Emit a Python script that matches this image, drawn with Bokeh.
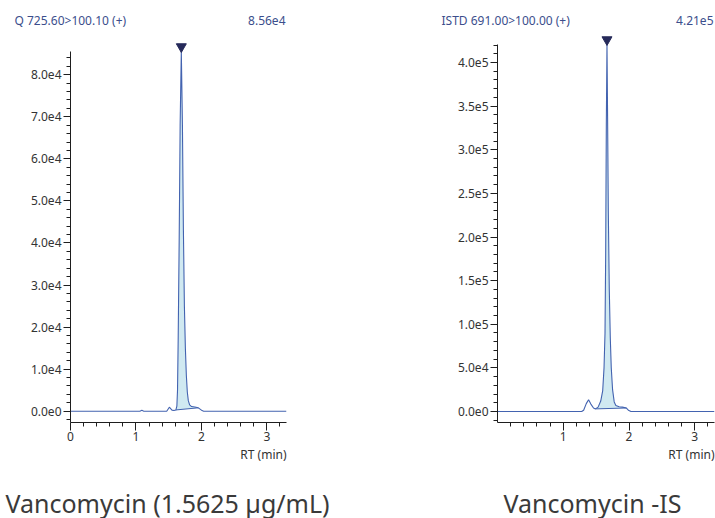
import numpy as np
from bokeh.plotting import figure
from bokeh.models import Range1d, FixedTicker, Label, Title
from bokeh.layouts import row, column
from bokeh.embed import file_html
from bokeh.resources import INLINE

# ---------------- data ----------------
q_title = "Q 725.60>100.10 (+)"
q_max_label = "8.56e4"
q_caption = "Vancomycin (1.5625 µg/mL)"
q_rt = [0.00, 1.06, 1.09, 1.12, 1.47, 1.51, 1.55, 1.58, 1.61, 1.625, 1.635, 1.645,
        1.660, 1.675, 1.693, 1.710, 1.725, 1.740, 1.755, 1.770, 1.785, 1.800, 1.820,
        1.850, 1.900, 1.950, 1.980, 2.010, 2.035, 3.30]
q_int = [0, 0, 200, 0, 0, 950, 250, 150, 300, 1200, 5000, 17000,
         40000, 68000, 85600, 68000, 43000, 25000, 15000, 8500, 4500, 2500, 1500,
         1100, 1000, 800, 500, 150, 0, 0]
q_peak_rt = 1.693
q_peak_int = 85600
q_integ_rt = [1.61, 1.95]
q_yticks = [0, 10000, 20000, 30000, 40000, 50000, 60000, 70000, 80000]
q_yticklabels = ["0.0e0", "1.0e4", "2.0e4", "3.0e4", "4.0e4", "5.0e4", "6.0e4", "7.0e4", "8.0e4"]
q_yminor = list(range(-2000, 85000, 2000))
q_xticks = [0, 1, 2, 3]
q_xticklabels = ["0", "1", "2", "3"]
q_xminor = [0.2, 0.4, 0.6, 0.8, 1.2, 1.4, 1.6, 1.8, 2.2, 2.4, 2.6, 2.8, 3.2]

is_title = "ISTD 691.00>100.00 (+)"
is_max_label = "4.21e5"
is_caption = "Vancomycin -IS"
is_rt = [0.00, 1.28, 1.31, 1.35, 1.385, 1.42, 1.46, 1.49, 1.53, 1.57, 1.60, 1.62,
         1.635, 1.645, 1.655, 1.665, 1.675, 1.685, 1.700, 1.715, 1.730, 1.750, 1.775,
         1.800, 1.850, 1.900, 1.960, 1.990, 2.030, 3.30]
is_int = [0, 0, 1500, 9000, 13500, 8500, 4000, 3000, 5000, 12000, 24000, 50000,
          90000, 180000, 330000, 421000, 330000, 230000, 140000, 85000, 50000, 25000, 11000,
          7000, 5500, 5000, 4000, 1500, 0, 0]
is_peak_rt = 1.665
is_peak_int = 421000
is_integ_rt = [1.49, 1.96]
is_yticks = [0, 50000, 100000, 150000, 200000, 250000, 300000, 350000, 400000]
is_yticklabels = ["0.0e0", "5.0e4", "1.0e5", "1.5e5", "2.0e5", "2.5e5", "3.0e5", "3.5e5", "4.0e5"]
is_yminor = list(range(-10000, 421000, 10000))
is_xticks = [1, 2, 3]
is_xticklabels = ["1", "2", "3"]
is_xminor = [0.2, 0.4, 0.6, 0.8, 1.2, 1.4, 1.6, 1.8, 2.2, 2.4, 2.6, 2.8, 3.2]

x_label = "RT (min)"

# ---------------- style / layout ----------------
W = 715
TOP_H = 32
FRAME_H = 390
BOT_BORDER = 44
CHART_H = FRAME_H + BOT_BORDER
CAP_H = 518 - TOP_H - CHART_H
LINE = "#4363b0"
FILL = "#d0e9f1"
MARK = "#262a5a"
TITLE_C = "#3b4e8c"
TICK_C = "#333333"
AXIS_C = "#1e1e1e"
FONT = "Noto Sans"
CAP_FONT = "Noto Sans"
SMALL = "12px"
CAP_SIZE = "25px"


def text_strip(height, items):
    p = figure(width=W, height=height, output_backend="svg", toolbar_location=None,
               x_range=Range1d(0, W), y_range=Range1d(height, 0),
               x_axis_type=None, y_axis_type=None,
               min_border=0, min_border_left=0, min_border_right=0,
               min_border_top=0, min_border_bottom=0)
    p.xgrid.visible = False
    p.ygrid.visible = False
    p.outline_line_color = None
    for (x, y, txt, size, color, align, font) in items:
        p.add_layout(Label(x=x, y=y, text=txt, text_font=font, text_font_size=size,
                           text_color=color, text_baseline="middle", text_align=align))
    return p


def make_chart(width, bl, br, x_end, zero_up, px_per_y, rt, inten, peak_rt, peak_int,
               integ, yticks, ylabels, yminor, xticks, xlabels, xminor):
    y_start = -zero_up / px_per_y
    y_end = y_start + FRAME_H / px_per_y

    p = figure(width=width, height=CHART_H, output_backend="svg", toolbar_location=None,
               x_range=Range1d(0, x_end), y_range=Range1d(y_start, y_end),
               min_border_left=bl, min_border_right=br, min_border_top=0,
               min_border_bottom=BOT_BORDER)
    p.xgrid.visible = False
    p.ygrid.visible = False
    p.outline_line_color = None

    rt_a = np.array(rt, dtype=float)
    in_a = np.array(inten, dtype=float)
    a, b = integ
    xs = [a] + [r for r in rt if a < r < b] + [b]
    curve = np.interp(xs, rt_a, in_a)
    base_ends = [float(np.interp(a, rt_a, in_a)), float(np.interp(b, rt_a, in_a))]
    base = np.interp(xs, [a, b], base_ends)
    p.varea(x=xs, y1=base, y2=curve, fill_color=FILL)
    p.line(x=[a, b], y=base_ends, line_color=LINE, line_width=1)
    p.line(x=rt, y=inten, line_color=LINE, line_width=1.1)
    p.scatter(x=[peak_rt], y=[peak_int + 4.5 / px_per_y], marker="inverted_triangle",
              size=10, fill_color=MARK, line_color=MARK)

    for ax, ticks, labels, minor in ((p.xaxis[0], xticks, xlabels, xminor),
                                     (p.yaxis[0], yticks, ylabels, yminor)):
        ax.ticker = FixedTicker(ticks=ticks, minor_ticks=minor)
        ax.major_label_overrides = {t: l for t, l in zip(ticks, labels)}
        ax.axis_line_color = AXIS_C
        ax.major_tick_line_color = AXIS_C
        ax.minor_tick_line_color = AXIS_C
        ax.major_tick_in = 0
        ax.minor_tick_in = 0
        ax.major_label_text_font = FONT
        ax.major_label_text_font_size = SMALL
        ax.major_label_text_color = TICK_C
    p.xaxis.major_tick_out = 8
    p.xaxis.minor_tick_out = 4
    p.yaxis.major_tick_out = 7
    p.yaxis.minor_tick_out = 4
    p.xaxis.major_label_standoff = 1
    p.yaxis.major_label_standoff = 2
    p.xaxis.bounds = (0, x_end)
    p.yaxis.bounds = (y_start, peak_int)

    p.add_layout(Title(text=x_label, align="right", text_font=FONT, text_font_size=SMALL,
                       text_font_style="normal", text_color=TICK_C, standoff=0,
                       offset=0), "below")
    return p


top = text_strip(TOP_H, [
    (14, 20, q_title, SMALL, TITLE_C, "left", FONT),
    (285, 20, q_max_label, SMALL, TITLE_C, "right", FONT),
    (441, 20, is_title, SMALL, TITLE_C, "left", FONT),
    (713, 20, is_max_label, SMALL, TITLE_C, "right", FONT),
])

left = make_chart(380, 70, 94, 3.3, 11.3, 42.06e-4, q_rt, q_int, q_peak_rt, q_peak_int,
                  q_integ_rt, q_yticks, q_yticklabels, q_yminor, q_xticks, q_xticklabels,
                  q_xminor)
right = make_chart(335, 117, 1, 3.3, 11.0, 87.25e-5, is_rt, is_int, is_peak_rt, is_peak_int,
                   is_integ_rt, is_yticks, is_yticklabels, is_yminor, is_xticks,
                   is_xticklabels, is_xminor)

cap_y = 502 - TOP_H - CHART_H
bottom = text_strip(CAP_H, [
    (5, cap_y, q_caption, CAP_SIZE, "#3a3a3a", "left", CAP_FONT),
    (503, cap_y, is_caption, CAP_SIZE, "#3a3a3a", "left", CAP_FONT),
])

layout = column(top, row(left, right), bottom, spacing=0)
open("out.html", "w").write(file_html(layout, INLINE))
